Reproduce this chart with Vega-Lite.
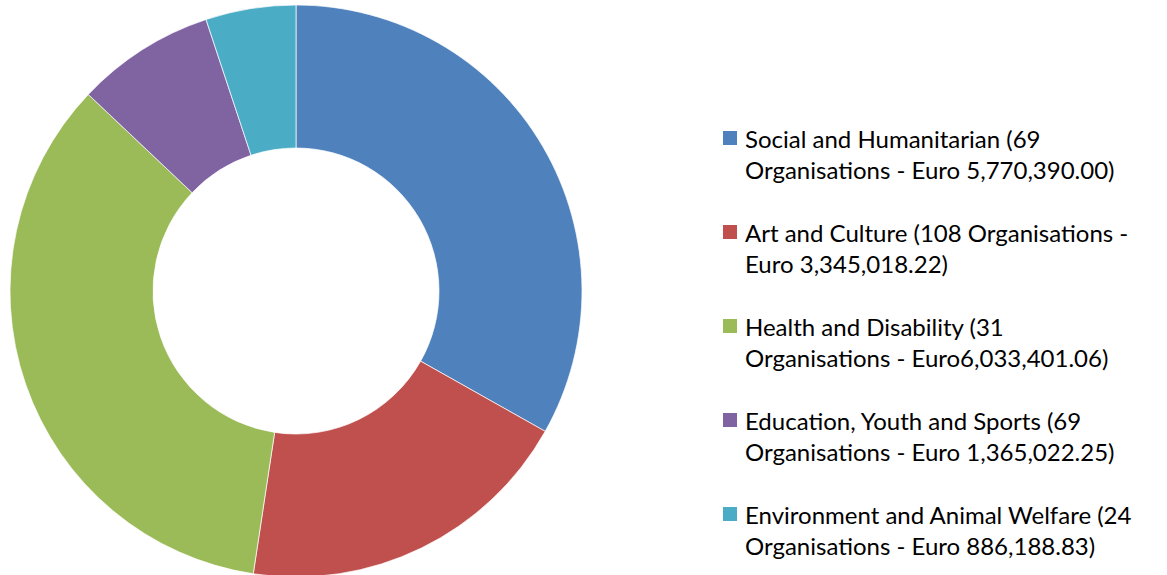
{
  "$schema": "https://vega.github.io/schema/vega-lite/v6.json",
  "width": 592,
  "height": 582,
  "padding": 0,
  "autosize": {"type": "pad"},
  "background": "white",
  "view": {"stroke": null},
  "config": {"style": {"guide-label": {"lineHeight": 31, "dy": -9}}},
  "data": {
    "values": [
      {"idx": 1, "category": "Social and Humanitarian (69|Organisations - Euro 5,770,390.00)", "amount": 5770390.00},
      {"idx": 2, "category": "Art and Culture (108 Organisations -|Euro 3,345,018.22)", "amount": 3345018.22},
      {"idx": 3, "category": "Health and Disability (31|Organisations - Euro6,033,401.06)", "amount": 6033401.06},
      {"idx": 4, "category": "Education, Youth and Sports (69|Organisations - Euro 1,365,022.25)", "amount": 1365022.25},
      {"idx": 5, "category": "Environment and Animal Welfare (24|Organisations - Euro 886,188.83)", "amount": 886188.83}
    ]
  },
  "mark": {"type": "arc", "outerRadius": 286, "innerRadius": 143, "stroke": "#ffffff", "strokeWidth": 0.7},
  "encoding": {
    "theta": {"field": "amount", "type": "quantitative", "stack": true},
    "order": {"field": "idx", "type": "quantitative"},
    "color": {
      "field": "category",
      "type": "nominal",
      "sort": null,
      "scale": {"range": ["#4F81BD", "#C0504D", "#9BBB59", "#8064A2", "#4BACC6"]},
      "legend": {
        "title": null,
        "orient": "none",
        "legendX": 718,
        "legendY": 126,
        "padding": 0,
        "symbolType": "square",
        "symbolSize": 196,
        "symbolStrokeWidth": 0,
        "symbolOpacity": 1,
        "labelExpr": "split(datum.label, '|')",
        "labelFont": "Lato",
        "labelFontSize": 24,
        "labelColor": "#000000",
        "labelLimit": 0,
        "labelOffset": 3,
        "labelBaseline": "top",
        "rowPadding": 36
      }
    }
  }
}
